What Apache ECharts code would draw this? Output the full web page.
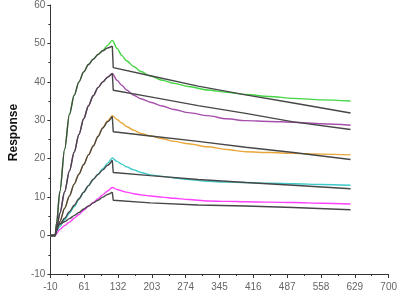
<!DOCTYPE html>
<html>
<head>
<meta charset="utf-8">
<script src="https://cdn.jsdelivr.net/npm/echarts@6/dist/echarts.min.js"></script>
<style>html,body{margin:0;padding:0;background:#fff}#c{width:400px;height:300px}</style>
</head>
<body>
<div id="c"></div>
<script>
// X tick labels (axis runs -10 .. 700, step 71)
const xTickLabels = ['-10','61','132','203','274','345','416','487','558','629','700'];
const xStart = -10;

// Measured sensorgram time points (s)
const dataT = [-10,0,3,10,20,30,40,50,60,70,80,90,100,110,120,130,140,150,165,180,200,225,250,280,320,360,400,450,500,560,620];
const green   = [0,0,3.2,11.5,22.5,31.5,36.5,40.0,42.6,44.5,45.9,47.1,48.2,49.5,50.8,48.7,46.9,45.5,44.0,42.7,41.5,40.4,39.6,38.8,37.9,37.3,36.7,36.2,35.7,35.3,35.0];
const purple  = [0,0,1.7,5.8,11.4,16.8,21.7,26.3,30.4,33.8,36.4,38.5,40.0,41.2,42.2,40.4,39.1,37.9,36.5,35.6,34.7,33.7,32.8,32.0,31.2,30.4,29.9,29.7,29.5,29.1,28.7];
const orange  = [0,0,1.2,3.7,7.1,10.3,13.4,16.0,18.5,21.0,23.3,25.8,28.1,29.8,31.2,30.2,29.3,28.4,27.4,26.6,25.9,25.2,24.5,23.9,23.1,22.4,21.8,21.6,21.4,21.2,21.0];
const cyan    = [0,0,1.0,2.4,4.1,5.8,7.5,9.4,11.3,13.0,14.7,16.0,17.4,18.8,20.2,19.3,18.6,17.9,17.1,16.4,15.8,15.4,15.0,14.6,14.1,13.9,13.8,13.6,13.5,13.3,13.1];
const magenta = [0,0,0.5,1.6,2.6,3.5,4.5,5.5,6.6,7.6,8.6,9.6,10.6,11.6,12.5,12.0,11.6,11.3,10.9,10.6,10.3,10.0,9.7,9.4,9.0,8.9,8.8,8.7,8.6,8.4,8.2];

// Fitted curves: association phase and dissociation phase time points (s)
const fitAssocT = [-10,0,3,10,20,30,40,50,60,70,80,90,100,110,120];
const fitDissocT = [120,122,200,300,400,500,620];
const greenFitA   = [0,0,3.2,11.5,22.5,31.5,36.5,40.0,42.6,44.5,45.9,47.1,48.1,48.8,49.3];
const greenFitD   = [49.3,43.7,41.6,38.9,36.6,34.5,31.9];
const purpleFitA  = [0,0,1.7,5.8,11.4,16.8,21.7,26.3,30.4,33.8,36.4,38.5,40.0,41.2,42.2];
const purpleFitD  = [42.2,37.8,36.1,33.8,31.8,29.6,27.6];
const orangeFitA  = [0,0,1.2,3.7,7.1,10.3,13.4,16.0,18.5,21.0,23.3,25.8,28.0,29.6,31.0];
const orangeFitD  = [31.0,27.0,25.9,24.5,23.0,21.6,19.8];
const cyanFitA    = [0,0,2.0,3.0,4.5,6.2,7.9,9.6,11.3,13.0,14.6,15.9,17.1,18.3,19.6];
const cyanFitD    = [19.6,16.4,15.6,14.6,13.8,13.1,12.2];
const magentaFitA = [0,0,2.0,3.0,3.6,4.4,5.2,6.0,6.9,7.7,8.5,9.2,10.0,10.7,11.3];
const magentaFitD = [11.3,9.2,8.5,7.95,7.7,7.3,6.7];

const pair = (ts, vs) => ts.map((t, i) => [t - xStart, vs[i]]);

const dataSeries = [
  ['Sample 1', green, '#45d645'],
  ['Sample 2', purple, '#a650ad'],
  ['Sample 3', orange, '#e8a73a'],
  ['Sample 4', cyan, '#3ecaca'],
  ['Sample 5', magenta, '#ff40ff']
].map(([n, v, c]) => ({
  name: n, type: 'line', data: pair(dataT, v), showSymbol: false, smooth: 0.3, smoothMonotone: 'x',
  lineStyle: {color: c, width: 1.4}, itemStyle: {color: c}, z: 2
}));
const fitColor = '#474747';
const fitSeries = [];
[[greenFitA, greenFitD], [purpleFitA, purpleFitD], [orangeFitA, orangeFitD], [cyanFitA, cyanFitD], [magentaFitA, magentaFitD]]
  .forEach(([a, d], i) => {
    fitSeries.push({
      name: 'Fit ' + (i + 1), type: 'line', data: pair(fitAssocT, a), showSymbol: false, smooth: 0.3, smoothMonotone: 'x',
      lineStyle: {color: fitColor, width: 1.4}, itemStyle: {color: fitColor}, z: 3
    });
    fitSeries.push({
      name: 'Fit ' + (i + 1), type: 'line', data: pair(fitDissocT, d), showSymbol: false,
      lineStyle: {color: fitColor, width: 1.4}, itemStyle: {color: fitColor}, z: 3
    });
  });

const chart = echarts.init(document.getElementById('c'));
chart.setOption({
  animation: false,
  backgroundColor: '#fff',
  grid: {left: 26, right: 8, top: -1, bottom: 26, containLabel: false},
  xAxis: {
    type: 'value', min: 0, max: 710, interval: 71,
    axisLine: {show: true, onZero: false, lineStyle: {color: '#333', width: 1}},
    axisTick: {show: true, length: 4, lineStyle: {color: '#333'}},
    minorTick: {show: true, splitNumber: 2, length: 2, lineStyle: {color: '#333'}},
    splitLine: {show: false},
    axisLabel: {color: '#666', fontSize: 10, margin: 8, fontFamily: 'Liberation Sans Narrow, Liberation Sans, sans-serif',
      formatter: v => xTickLabels[Math.round(v / 71)]}
  },
  yAxis: {
    type: 'value', min: -10, max: 60, interval: 10,
    name: 'Response', nameLocation: 'middle', nameGap: 16, nameRotate: 90,
    nameTextStyle: {color: '#111', fontSize: 12, fontWeight: 'bold', fontFamily: 'Liberation Sans, Arial, sans-serif', padding: [0, 0, 0, 14]},
    axisLine: {show: true, onZero: false, lineStyle: {color: '#333', width: 1}},
    axisTick: {show: true, length: 3, lineStyle: {color: '#333'}},
    minorTick: {show: true, splitNumber: 2, length: 2, lineStyle: {color: '#333'}},
    splitLine: {show: false},
    axisLabel: {color: '#666', fontSize: 10, margin: 5, fontFamily: 'Liberation Sans Narrow, Liberation Sans, sans-serif'}
  },
  series: dataSeries.concat(fitSeries)
});
</script>
</body>
</html>
